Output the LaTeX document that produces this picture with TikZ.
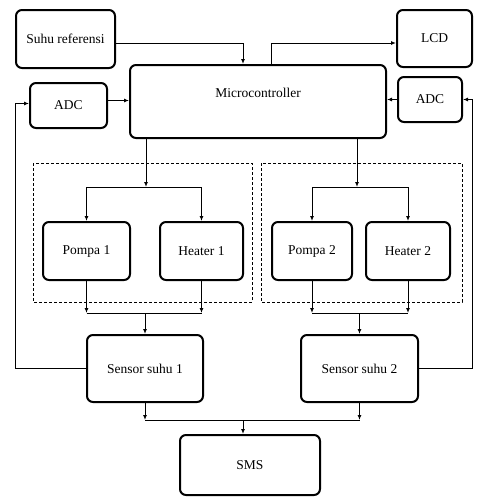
\documentclass[tikz,border=0pt]{standalone}
\usepackage{fontspec}
\setmainfont{Liberation Serif}
\usetikzlibrary{positioning}
\usetikzlibrary{arrows.meta}
\usetikzlibrary{calc}
\tikzset{
  % A block of the system
  blok/.style={
    draw=black, line width=2pt, rounded corners=6pt, fill=white,
    align=center, font=\fontsize{13.5}{15}\selectfont, inner sep=0pt,
    minimum width=#1},
  % A group of actuators
  grp/.style={draw=black, dash pattern=on 3pt off 2pt, line width=1pt},
  % Connectors
  conn/.style={-{Latex[length=5pt,width=4pt]}, draw=black, line width=1pt},
  wire/.style={draw=black, line width=1pt},
}

\begin{document}
\begin{tikzpicture}[x=1pt, y=-1pt]
  \useasboundingbox (0,0) rectangle (477,499);

  % --- Input, output and controller ------------------------------------
  \node[blok=99pt, minimum height=58pt]  (ref)    at (65.5,39)   {Suhu referensi};
  \node[blok=75pt, minimum height=57pt]  (lcd)    at (434.5,38.5) {LCD};
  \node[blok=77pt, minimum height=45pt]  (adcL)   at (68.5,105.5) {ADC};
  \node[blok=64pt, minimum height=45pt]  (adcR)   at (430,99.5)  {ADC};
  \node[blok=256pt, text height=32.5pt, text depth=40.5pt] (micro) at (258,101.5)
       {Microcontroller};

  % --- Actuators ---------------------------------------------------------
  \draw[grp] (33,163) rectangle (252,302);
  \draw[grp] (261,163) rectangle (462,302);
  \node[blok=87pt, minimum height=58pt] (pompa1)  at (86.5,251) {Pompa 1};
  \node[blok=83pt, minimum height=58pt] (heater1) at (201.5,251) {Heater 1};
  \node[blok=80pt, minimum height=58pt] (pompa2)  at (312,251)  {Pompa 2};
  \node[blok=84pt, minimum height=58pt] (heater2) at (408,251)  {Heater 2};

  % --- Sensors and SMS ---------------------------------------------------
  \node[blok=116pt, minimum height=67pt] (sensor1) at (145,368.5)   {Sensor suhu 1};
  \node[blok=117pt, minimum height=67pt] (sensor2) at (359.5,368.5) {Sensor suhu 2};
  \node[blok=140pt, minimum height=60pt] (sms)     at (250,465)     {SMS};

  % --- Junctions ---------------------------------------------------------
  \coordinate (jref) at (243,43);
  \coordinate (jlcd) at (271,43);
  \coordinate (s1) at (146,187);
  \coordinate (s2) at (357,187);
  \coordinate (m1) at (145,313);
  \coordinate (m2) at (359.5,313);
  \coordinate (fbL) at (15,0);
  \coordinate (fbR) at (472,0);
  \coordinate (b) at (243,420);

  % --- Connections -------------------------------------------------------
  \draw[conn] (ref.east |- jref) -| (micro.north -| jref);
  \draw[conn] (micro.north -| jlcd) |- (lcd.west |- jlcd);
  \draw[conn] ([yshift=5pt]adcL.east) -- ([yshift=5pt]adcL.east -| micro.west);
  \draw[conn] (adcR.west) -- (adcR.west -| micro.east);

  \draw[conn] (micro.south -| s1) -- (s1);
  \draw[conn] (s1) -| (pompa1.north);
  \draw[conn] (s1) -| (heater1.north);
  \draw[conn] (micro.south -| s2) -- (s2);
  \draw[conn] (s2) -| (pompa2.north);
  \draw[conn] (s2) -| (heater2.north);

  \draw[conn] (pompa1.south) -- (pompa1.south |- m1);
  \draw[conn] (heater1.south) -- (heater1.south |- m1);
  \draw[wire] (pompa1.south |- m1) -- (heater1.south |- m1);
  \draw[conn] (m1) -- (sensor1.north);
  \draw[conn] (pompa2.south) -- (pompa2.south |- m2);
  \draw[conn] (heater2.south) -- (heater2.south |- m2);
  \draw[wire] (pompa2.south |- m2) -- (heater2.south |- m2);
  \draw[conn] (m2) -- (sensor2.north);

  \draw[conn] (sensor1.west) -- (sensor1.west -| fbL) |- ([yshift=2pt]adcL.west);
  \draw[conn] (sensor2.east) -- (sensor2.east -| fbR) |- (adcR.east);

  \draw[conn] (sensor1.south) -- (sensor1.south |- b);
  \draw[conn] (sensor2.south) -- (sensor2.south |- b);
  \draw[wire] (sensor1.south |- b) -- (sensor2.south |- b);
  \draw[conn] (b) -- (sms.north -| b);

\end{tikzpicture}
\end{document}
